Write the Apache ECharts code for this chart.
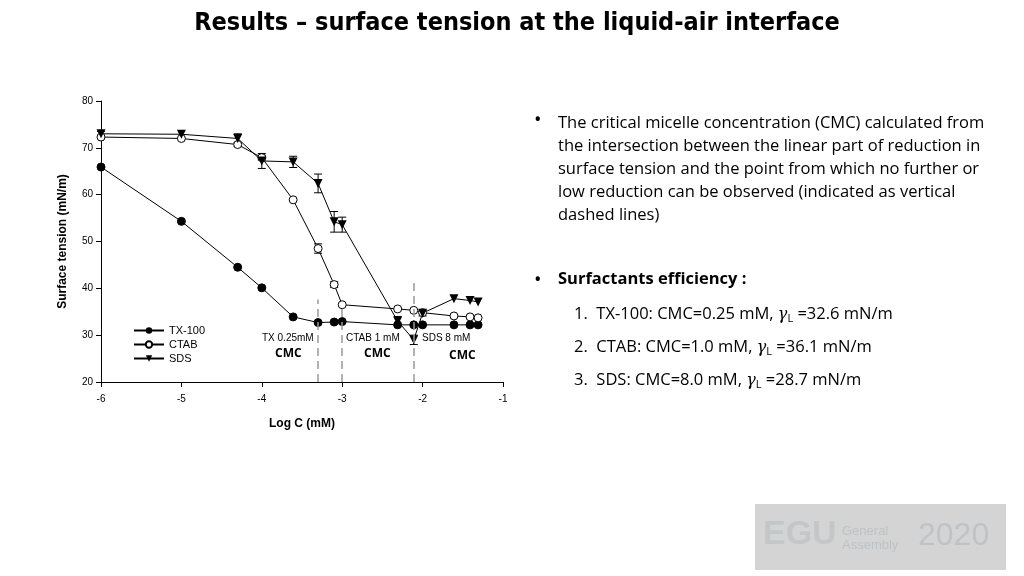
<!DOCTYPE html>
<html><head><meta charset="utf-8">
<script src="https://cdn.jsdelivr.net/npm/echarts@6/dist/echarts.min.js"></script>
<style>html,body{margin:0;padding:0;background:#fff}#c{width:1024px;height:576px}</style>
</head><body><div id="c"></div>
<script>
const logC = [-6, -5, -4.3, -4.0, -3.61, -3.3, -3.1, -3.0, -2.31, -2.11, -2.0, -1.61, -1.41, -1.31];
const tx100 = [65.9, 54.3, 44.5, 40.1, 33.9, 32.7, 32.8, 32.9, 32.2, 32.2, 32.2, 32.2, 32.2, 32.2];
const ctab = [72.3, 72.0, 70.7, 67.9, 58.9, 48.5, 40.8, 36.5, 35.6, 35.3, 34.8, 34.1, 33.9, 33.7];
const sds = [73.0, 72.9, 72.0, 67.2, 67.0, 62.4, 54.2, 53.6, 33.0, 29.0, 34.7, 37.8, 37.4, 37.1];
const ctabErr = [0, 0, 0.4, 0.5, 0, 1.0, 0.6, 0, 0, 0, 0, 0, 0, 0];
const sdsErr = [0.5, 0, 1.0, 1.6, 1.2, 2.0, 2.2, 1.6, 1.0, 1.0, 0.6, 0, 0, 0];
const cmcLines = [[-3.3, 37.6], [-3.0, 36.6], [-2.11, 41.5]];

const chart = echarts.init(document.getElementById('c'));
const pair = (ys) => logC.map((x, i) => [x, ys[i]]);
function errSeries(ys, err) {
  return {
    type: 'custom', silent: true, z: 1,
    data: logC.map((x, i) => [x, ys[i] - err[i], ys[i] + err[i]]).filter((d, i) => err[i] > 0),
    renderItem: (p, api) => {
      const lo = api.coord([api.value(0), api.value(1)]);
      const hi = api.coord([api.value(0), api.value(2)]);
      const w = 4;
      return { type: 'group', children: [
        { type: 'line', shape: { x1: lo[0], y1: lo[1], x2: hi[0], y2: hi[1] }, style: { stroke: '#000', lineWidth: 1 } },
        { type: 'line', shape: { x1: lo[0]-w, y1: lo[1], x2: lo[0]+w, y2: lo[1] }, style: { stroke: '#000', lineWidth: 1 } },
        { type: 'line', shape: { x1: hi[0]-w, y1: hi[1], x2: hi[0]+w, y2: hi[1] }, style: { stroke: '#000', lineWidth: 1 } }
      ]};
    }
  };
}
const font = 'Liberation Sans, Arial, sans-serif';
const bodyFont = 'Open Sans, Liberation Sans, sans-serif';
const bf = '16.5px ' + bodyFont;
chart.setOption({
  animation: false,
  title: { text: 'Results – surface tension at the liquid-air interface', left: 512, textAlign: 'center', top: 6,
    textStyle: { fontFamily: 'DejaVu Sans Condensed, DejaVu Sans', fontWeight: 'bold', fontSize: 25, color: '#000' } },
  grid: { left: 101, right: 521, top: 101, bottom: 194 },
  xAxis: { type: 'value', min: -6, max: -1, interval: 1, name: 'Log C (mM)', nameLocation: 'middle', nameGap: 36,
    nameTextStyle: { fontFamily: font, fontWeight: 'bold', fontSize: 12, color: '#000' },
    axisLine: { lineStyle: { color: '#000' } }, axisTick: { lineStyle: { color: '#000' } },
    axisLabel: { fontFamily: font, fontSize: 10, color: '#000', margin: 12 }, splitLine: { show: false } },
  yAxis: { type: 'value', min: 20, max: 80, interval: 10, name: 'Surface tension (mN/m)', nameLocation: 'middle', nameGap: 32,
    nameTextStyle: { fontFamily: font, fontWeight: 'bold', fontSize: 12, color: '#000' },
    axisLine: { show: true, lineStyle: { color: '#000' } }, axisTick: { show: true, lineStyle: { color: '#000' } },
    axisLabel: { fontFamily: font, fontSize: 10, color: '#000' }, splitLine: { show: false } },
  legend: { orient: 'vertical', left: 128, top: 320, itemWidth: 30, itemHeight: 8, itemGap: 3,
    textStyle: { fontFamily: font, fontSize: 11, color: '#000' },
    data: ['TX-100', 'CTAB', 'SDS'] },
  series: [
    errSeries(ctab, ctabErr), errSeries(sds, sdsErr),
    { type: 'line', z: 3, name: 'TX-100', data: pair(tx100), symbol: 'circle', symbolSize: 8, showAllSymbol: true,
      lineStyle: { color: '#000', width: 1, type: 'solid' }, itemStyle: { color: '#000', borderColor: '#000' } },
    { type: 'line', z: 3, name: 'CTAB', data: pair(ctab), symbol: 'circle', symbolSize: 8, showAllSymbol: true,
      lineStyle: { color: '#000', width: 1, type: 'solid' }, itemStyle: { color: '#fff', borderColor: '#000', borderWidth: 1 } },
    { type: 'line', z: 3, name: 'SDS', data: pair(sds), symbol: 'triangle', symbolRotate: 180, symbolSize: 9, showAllSymbol: true,
      lineStyle: { color: '#000', width: 1, type: 'solid' }, itemStyle: { color: '#000' } },
    { type: 'line', name: 'cmc', data: [], silent: true,
      markLine: { silent: true, symbol: 'none', label: { show: false }, lineStyle: { type: [8, 5], color: '#999', width: 1.5 },
        data: cmcLines.map(c => [{ coord: [c[0], 20] }, { coord: [c[0], c[1]] }]) } }
  ],
  graphic: [
    { type: 'text', left: 262, top: 333, style: { text: 'TX 0.25mM', font: '10px ' + font, fill: '#000' } },
    { type: 'text', left: 275, top: 348, style: { text: 'CMC', font: 'bold 12px Open Sans, sans-serif', fill: '#000' } },
    { type: 'text', left: 346, top: 333, style: { text: 'CTAB 1 mM', font: '10px ' + font, fill: '#000' } },
    { type: 'text', left: 364, top: 348, style: { text: 'CMC', font: 'bold 12px Open Sans, sans-serif', fill: '#000' } },
    { type: 'text', left: 422, top: 333, style: { text: 'SDS 8 mM', font: '10px ' + font, fill: '#000' } },
    { type: 'text', left: 449, top: 350, style: { text: 'CMC', font: 'bold 12px Open Sans, sans-serif', fill: '#000' } },
    { type: 'text', left: 534, top: 110, style: { text: '•', font: '20px ' + bodyFont, fill: '#000' } },
    { type: 'text', left: 558, top: 112, style: { text: 'The critical micelle concentration (CMC) calculated from\nthe intersection between the linear part of reduction in\nsurface tension and the point from which no further or\nlow reduction can be observed (indicated as vertical\ndashed lines)', font: bf, lineHeight: 23, fill: '#000' } },
    { type: 'text', left: 534, top: 270, style: { text: '•', font: '20px ' + bodyFont, fill: '#000' } },
    { type: 'text', left: 558, top: 271, style: { text: 'Surfactants efficiency :', font: 'bold ' + bf, fill: '#000' } },
    ...[['1.', 'TX-100: CMC=0.25 mM, ', '=32.6 mN/m', 306], ['2.', 'CTAB: CMC=1.0 mM, ', '=36.1 mN/m', 339], ['3.', 'SDS: CMC=8.0 mM, ', '=28.7 mN/m', 372]].map(r => ({
      type: 'text', left: 574, top: r[3], style: {
        text: r[0] + '  ' + r[1] + '{g|γ}{s|L} ' + r[2],
        font: bf, fill: '#000',
        rich: { g: { font: 'italic 16px DejaVu Serif, serif' }, s: { font: '11px ' + bodyFont, padding: [8, 0, 0, 0] } }
      } })),
    { type: 'rect', left: 755, top: 504, shape: { width: 251, height: 66 }, style: { fill: '#d4d4d4' } },
    { type: 'text', left: 763, top: 518, style: { text: 'EGU', font: 'bold 34px ' + font, fill: '#c3c7c8' } },
    { type: 'text', left: 842, top: 524, style: { text: 'General\nAssembly', font: '13px ' + font, lineHeight: 14, fill: '#bfc2c4' } },
    { type: 'text', left: 918, top: 520, style: { text: '2020', font: '32px ' + font, fill: '#c0c3c5' } }
  ]
});
</script></body></html>
